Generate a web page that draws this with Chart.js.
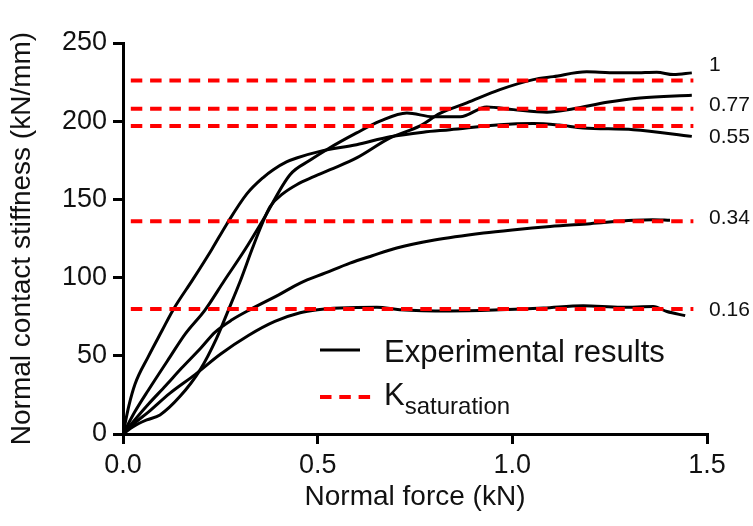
<!DOCTYPE html>
<html>
<head>
<meta charset="utf-8">
<script src="https://cdn.jsdelivr.net/npm/chart.js@4.4.0/dist/chart.umd.min.js"></script>
<style>
  html, body { margin: 0; padding: 0; background: #fff; }
</style>
</head>
<body>
<canvas id="myChart" width="753" height="526"></canvas>
<script>
var FONT = '"Liberation Sans", Arial, Helvetica, sans-serif';

// curve labels (right side) and the value where each label sits
var curveLabels = ["1", "0.77", "0.55", "0.34", "0.16"];
var labelLevels = [236, 210, 190, 138, 79];

// K saturation levels, drawn from 0 to satEnd
var saturation = [226, 208, 197, 136, 80];
var satEnd = 1.465;

// experimental curves: normal force (kN) / contact stiffness (kN/mm)
var force1 = [0, 0.026, 0.061, 0.095, 0.146, 0.198, 0.24, 0.271, 0.3, 0.331, 0.355, 0.378, 0.41, 0.446, 0.49, 0.532, 0.6, 0.686, 0.763, 0.814, 0.883, 0.968, 1.054, 1.105, 1.191, 1.25, 1.311, 1.371, 1.414, 1.461];
var stiff1 = [0, 4.7, 9, 12.2, 23.9, 41, 61, 79.4, 97, 117.8, 133, 145.5, 153.5, 159.4, 164.5, 169, 176.5, 189.3, 197, 205, 211.7, 220.2, 226.6, 228.5, 231.6, 231, 230.9, 231.3, 229.8, 230.9];

var force077 = [0, 0.03, 0.065, 0.12, 0.16, 0.211, 0.26, 0.313, 0.36, 0.429, 0.48, 0.523, 0.6, 0.66, 0.729, 0.797, 0.866, 0.934, 1.003, 1.089, 1.157, 1.243, 1.328, 1.461];
var stiff077 = [0, 14, 28, 49, 64, 79.4, 98, 117.8, 137, 165.8, 175, 181.8, 192.5, 200, 205.3, 202.8, 202.8, 209.1, 207.4, 205.7, 207.9, 212.1, 214.9, 216.6];

var force055 = [0, 0.015, 0.031, 0.065, 0.1, 0.129, 0.18, 0.228, 0.266, 0.318, 0.36, 0.386, 0.42, 0.446, 0.506, 0.6, 0.686, 0.771, 0.84, 0.968, 1.054, 1.12, 1.182, 1.311, 1.461];
var stiff055 = [0, 18, 32, 49.5, 66, 79.5, 99, 118, 134, 153.5, 164, 169, 174, 176.5, 180.7, 185, 190, 193, 194.6, 197.8, 198.5, 197.5, 195.7, 194.6, 190.3];

var force034 = [0, 0.03, 0.065, 0.11, 0.15, 0.2, 0.236, 0.28, 0.33, 0.4, 0.455, 0.52, 0.583, 0.64, 0.703, 0.8, 0.926, 1.0, 1.097, 1.2, 1.311, 1.36, 1.405];
var stiff034 = [0, 9, 19, 31, 42, 55, 65, 73, 80, 89, 96.5, 103, 109.3, 114, 118.9, 124, 128.5, 130.5, 132.7, 134.5, 136.6, 137, 136.6];

var force016 = [0, 0.03, 0.065, 0.12, 0.185, 0.25, 0.322, 0.39, 0.455, 0.5, 0.557, 0.652, 0.711, 0.84, 0.968, 1.08, 1.182, 1.28, 1.362, 1.397, 1.444];
var stiff016 = [0, 7, 14, 26, 38, 51, 63, 72, 77.5, 79.4, 80.5, 81, 79.5, 78.7, 79.4, 80.5, 82, 81, 81.5, 78.3, 75.7];

var xTicks = [0, 0.5, 1.0, 1.5];

function toPoints(xs, ys) {
  let pts = [];
  for (let i = 0; i < xs.length; i++) pts.push({x: xs[i], y: ys[i]});
  return pts;
}

let datasets = [];

// red dashed lines first so they are drawn on top
saturation.forEach(function (k) {
  datasets.push({
    data: [{x: 0, y: k}, {x: satEnd, y: k}],
    borderColor: "#ff0000",
    borderWidth: 4,
    borderDash: [11.5, 7.8],
    borderDashOffset: 11.5,
    pointRadius: 0,
    fill: false
  });
});

[[force1, stiff1], [force077, stiff077], [force055, stiff055], [force034, stiff034], [force016, stiff016]].forEach(function (c) {
  datasets.push({
    data: toPoints(c[0], c[1]),
    borderColor: "#000",
    borderWidth: 3,
    pointRadius: 0,
    cubicInterpolationMode: "monotone",
    fill: false
  });
});

// labels at curve ends + custom legend with subscript
let extras = {
  id: "extras",
  afterDraw: function (chart) {
    let ctx = chart.ctx;
    let xs = chart.scales.x, ys = chart.scales.y;
    ctx.save();
    ctx.fillStyle = "#111";
    ctx.font = "21px " + FONT;
    ctx.textBaseline = "middle";
    ctx.textAlign = "left";
    for (let i = 0; i < curveLabels.length; i++) {
      ctx.fillText(curveLabels[i], xs.right + 2, ys.getPixelForValue(labelLevels[i]));
    }

    // legend
    ctx.lineWidth = 3;
    ctx.strokeStyle = "#000";
    ctx.beginPath();
    ctx.moveTo(320, 350);
    ctx.lineTo(360, 350);
    ctx.stroke();

    ctx.lineWidth = 4;
    ctx.strokeStyle = "#ff0000";
    ctx.setLineDash([11.5, 7.8]);
    ctx.beginPath();
    ctx.moveTo(320, 397);
    ctx.lineTo(371, 397);
    ctx.stroke();
    ctx.setLineDash([]);

    ctx.textBaseline = "alphabetic";
    ctx.font = "31px " + FONT;
    ctx.fillText("Experimental results", 384, 362);
    ctx.fillText("K", 384, 405);
    let kw = ctx.measureText("K").width;
    ctx.font = "24px " + FONT;
    ctx.fillText("saturation", 384 + kw, 414);
    ctx.restore();
  }
};

new Chart("myChart", {
  type: "line",
  data: { datasets: datasets },
  options: {
    responsive: false,
    animation: false,
    layout: { padding: { top: 43, right: 46, left: 0, bottom: 0 } },
    plugins: { legend: { display: false }, tooltip: { enabled: false } },
    scales: {
      x: {
        type: "linear",
        min: 0,
        max: 1.5,
        afterBuildTicks: function (s) { s.ticks = xTicks.map(function (v) { return {value: v}; }); },
        afterFit: function (s) { s.height = 92; },
        ticks: {
          callback: function (v) { return v.toFixed(1); },
          font: { size: 27, family: FONT },
          color: "#111",
          padding: 5,
          maxRotation: 0
        },
        grid: { drawOnChartArea: false, tickLength: 10, color: "#000", lineWidth: 3 },
        border: { color: "#000", width: 3 },
        title: {
          display: true,
          text: "Normal force (kN)",
          font: { size: 28, family: FONT },
          color: "#111",
          padding: { top: 0, bottom: 12 }
        }
      },
      y: {
        min: 0,
        max: 250,
        afterFit: function (s) { s.width = 123; },
        ticks: {
          stepSize: 50,
          font: { size: 27, family: FONT },
          color: "#111",
          padding: 6
        },
        grid: { drawOnChartArea: false, tickLength: 10, color: "#000", lineWidth: 3 },
        border: { color: "#000", width: 3 },
        title: {
          display: true,
          text: "Normal contact stiffness (kN/mm)",
          font: { size: 28, family: FONT },
          color: "#111",
          padding: { top: 5, bottom: 0 }
        }
      }
    }
  },
  plugins: [extras]
});
</script>
</body>
</html>
